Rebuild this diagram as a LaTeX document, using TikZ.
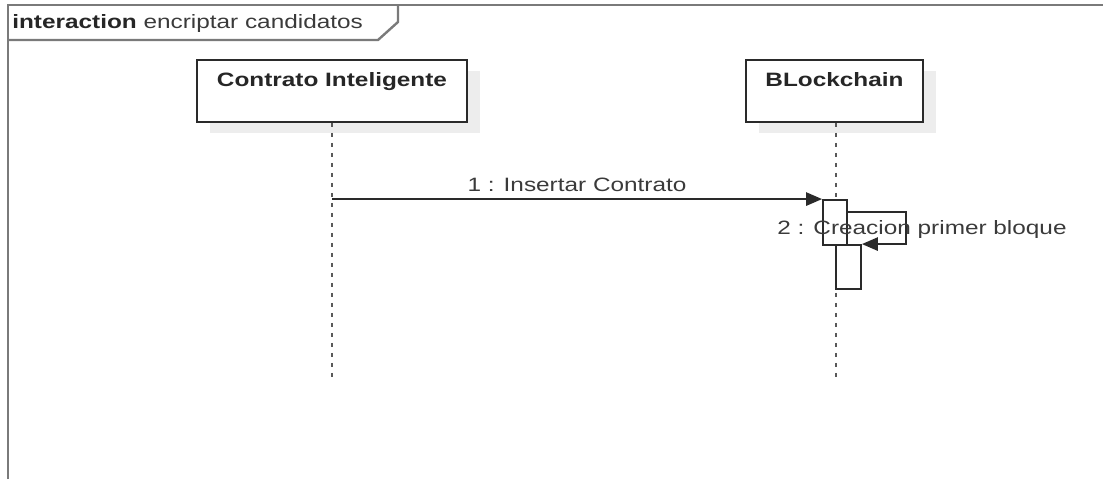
\documentclass[tikz,border=0pt]{standalone}
\usepackage{fontspec}
\setmainfont{Liberation Sans}[FakeStretch=1.26]
\usetikzlibrary{arrows.meta, shadows}
\definecolor{umlline}{HTML}{2A2A2A}
\definecolor{umltext}{HTML}{3A3A3A}
\definecolor{framegray}{HTML}{7A7A7A}

\begin{document}
\begin{tikzpicture}[
        x=0.75pt, y=-0.75pt,
        lifebox/.style={rectangle, draw=umlline, line width=1.4pt, fill=white, minimum width=202.5pt, minimum height=46.5pt,
            general shadow={fill=black!7, shadow xshift=9.75pt, shadow yshift=-8.25pt}},
        title/.style={font=\fontsize{14.5pt}{17pt}\selectfont\bfseries, text=black!85, inner sep=0pt, anchor=base},
        lifeline/.style={black!65, line width=2pt, dash pattern=on 3pt off 4.5pt},
        bar/.style={rectangle, draw=umlline, line width=1.4pt, fill=white, minimum width=18pt, inner sep=0pt},
        msg/.style={-{Triangle[length=12pt, width=10pt]}, umlline, line width=1.4pt},
        msglabel/.style={font=\fontsize{14.5pt}{17pt}\selectfont, text=umltext, inner sep=0pt, anchor=base},
        frame/.style={framegray, line width=1.8pt}
    ]
        \useasboundingbox (0,0) rectangle (1103,479);

        % Interaction frame
        \draw[frame] (8,479) -- (8,5) -- (1103,5);
        \draw[frame] (8,40) -- (378,40) -- (398,22) -- (398,5);
        \node[msglabel, anchor=base west] (frmlbl) at (12,28) {\textbf{\textcolor{black!85}{interaction}} encriptar candidatos};

        % Lifelines
        \node[lifebox, minimum width=202.5pt] (ci) at (332,91) {};
        \path (ci.north) ++(0,27) node[title] (cilbl) {Contrato Inteligente};
        \node[lifebox, minimum width=132.75pt] (bc) at (834.5,91) {};
        \path (bc.north) ++(0,27) node[title] (bclbl) {BLockchain};

        \draw[lifeline] (ci.south) -- ++(0,256);
        \draw[lifeline] ([xshift=1pt]bc.south) -- ++(0,256);

        % Activations
        \node[bar, minimum height=33.75pt] (act1) at (835,222.5) {};
        \node[bar, minimum width=18.75pt, minimum height=33pt] (act2) at (848.5,267) {};

        % Messages
        \draw[msg] (ci.south |- act1.north) -- (act1.north west)
            node[msglabel, midway, yshift=6pt] (m1lbl) {1 : Insertar Contrato};
        \draw[msg] ([yshift=-9.75pt]act1.north east) -- ++(58,0) |- (act2.north east);
        \node[msglabel] (m2lbl) at (922,234) {2 : Creacion primer bloque};
    \end{tikzpicture}
\end{document}
